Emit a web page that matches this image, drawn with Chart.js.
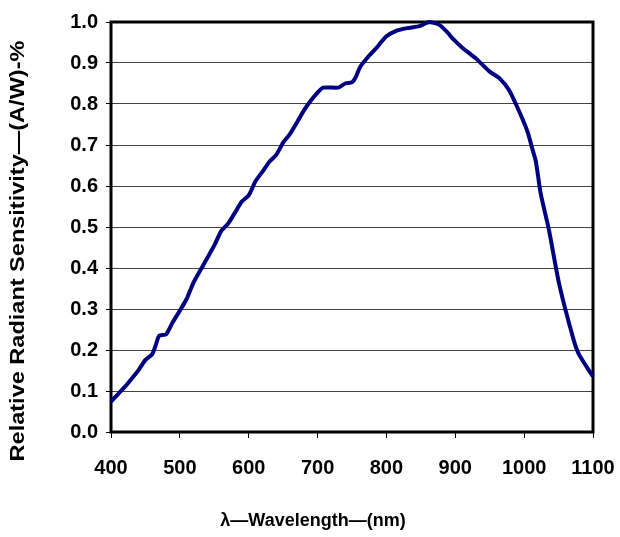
<!DOCTYPE html>
<html>
<head>
<meta charset="utf-8">
<script src="https://cdn.jsdelivr.net/npm/chart.js@4"></script>
<style>
    html, body { margin: 0; padding: 0; background: #fff; }
    #wrap { width: 620px; height: 537px; }
</style>
</head>
<body>
<div id="wrap"><canvas id="chart" width="620" height="537"></canvas></div>
<script>
// wavelength (nm) and relative sensitivity
const wavelengths = [400, 410, 420, 430, 440, 450, 460, 465, 470, 480, 490, 500, 510, 520, 530, 540, 550, 560, 570, 580, 590, 600, 610, 620, 630, 640, 650, 660, 670, 680, 690, 700, 708, 730, 740, 750, 755, 762, 775, 785, 800, 815, 830, 848, 857, 862, 877, 890, 896, 911, 930, 950, 964, 978, 993, 1005, 1012, 1017, 1024, 1036, 1051, 1072, 1080, 1100];
const sensitivity = [0.074, 0.092, 0.11, 0.13, 0.151, 0.176, 0.19, 0.212, 0.235, 0.238, 0.269, 0.296, 0.325, 0.365, 0.395, 0.425, 0.455, 0.49, 0.508, 0.535, 0.562, 0.577, 0.612, 0.635, 0.659, 0.676, 0.706, 0.727, 0.755, 0.784, 0.808, 0.828, 0.84, 0.84, 0.85, 0.853, 0.864, 0.891, 0.918, 0.936, 0.965, 0.979, 0.985, 0.99, 0.997, 1.0, 0.993, 0.972, 0.96, 0.936, 0.911, 0.879, 0.863, 0.834, 0.781, 0.732, 0.69, 0.66, 0.582, 0.493, 0.36, 0.224, 0.188, 0.135];

const xTicks = [400, 500, 600, 700, 800, 900, 1000, 1100];
const yTicks = [0, 0.1, 0.2, 0.3, 0.4, 0.5, 0.6, 0.7, 0.8, 0.9, 1.0];

const xTitle = "\u03bb\u2014Wavelength\u2014(nm)";
const yTitle = "Relative Radiant Sensitivity\u2014(A/W)-%";

const FONT = "'Liberation Sans', Arial, sans-serif";

// thick frame around the plot area
const frame = {
    id: "frame",
    beforeDatasetsDraw(chart) {
        const a = chart.chartArea;
        const ctx = chart.ctx;
        ctx.save();
        ctx.strokeStyle = "#000";
        ctx.lineWidth = 3;
        ctx.strokeRect(a.left, a.top, a.right - a.left, a.bottom - a.top);
        ctx.restore();
    }
};

// axis titles are off-centre in the original, so place them by hand
const titles = {
    id: "titles",
    afterDraw(chart) {
        const ctx = chart.ctx;
        ctx.save();
        ctx.fillStyle = "#000";
        ctx.textAlign = "center";
        ctx.textBaseline = "middle";

        ctx.font = "bold 18px " + FONT;
        ctx.fillText(xTitle, 313, 521);

        ctx.translate(18, 251);
        ctx.rotate(-Math.PI / 2);
        ctx.scale(1.12, 1);
        ctx.font = "bold 21px " + FONT;
        ctx.fillText(yTitle, 0, 0);
        ctx.restore();
    }
};

new Chart(document.getElementById("chart").getContext("2d"), {
    type: "line",
    data: {
        datasets: [{
            data: wavelengths.map((w, i) => ({ x: w, y: sensitivity[i] })),
            borderColor: "#000080",
            borderWidth: 4,
            pointRadius: 0,
            tension: 0.2,
            fill: false,
            clip: 6
        }]
    },
    options: {
        responsive: false,
        animation: false,
        layout: { padding: { top: 22, right: 27, left: 0, bottom: 0 } },
        plugins: {
            legend: { display: false },
            tooltip: { enabled: false }
        },
        scales: {
            x: {
                type: "linear",
                min: 400,
                max: 1100,
                afterBuildTicks(scale) {
                    scale.ticks = xTicks.map(v => ({ value: v }));
                },
                afterFit(scale) {
                    scale.height = 105;
                    scale.paddingLeft = 0;
                    scale.paddingRight = 0;
                },
                grid: {
                    drawOnChartArea: false,
                    drawTicks: true,
                    tickLength: 6,
                    tickColor: "#000"
                },
                border: { display: false },
                ticks: {
                    color: "#000",
                    padding: 18,
                    maxRotation: 0,
                    callback: v => String(v),
                    font: { family: FONT, size: 20, weight: "bold" }
                }
            },
            y: {
                min: 0,
                max: 1,
                afterBuildTicks(scale) {
                    scale.ticks = yTicks.map(v => ({ value: v }));
                },
                afterFit(scale) {
                    scale.width = 111;
                    scale.paddingTop = 0;
                    scale.paddingBottom = 0;
                },
                grid: {
                    color: "#444",
                    lineWidth: 1,
                    tickLength: 5,
                    tickColor: "#000"
                },
                border: { display: false },
                ticks: {
                    color: "#000",
                    padding: 8,
                    callback: v => v.toFixed(1),
                    font: { family: FONT, size: 20, weight: "bold" }
                }
            }
        }
    },
    plugins: [frame, titles]
});
</script>
</body>
</html>
